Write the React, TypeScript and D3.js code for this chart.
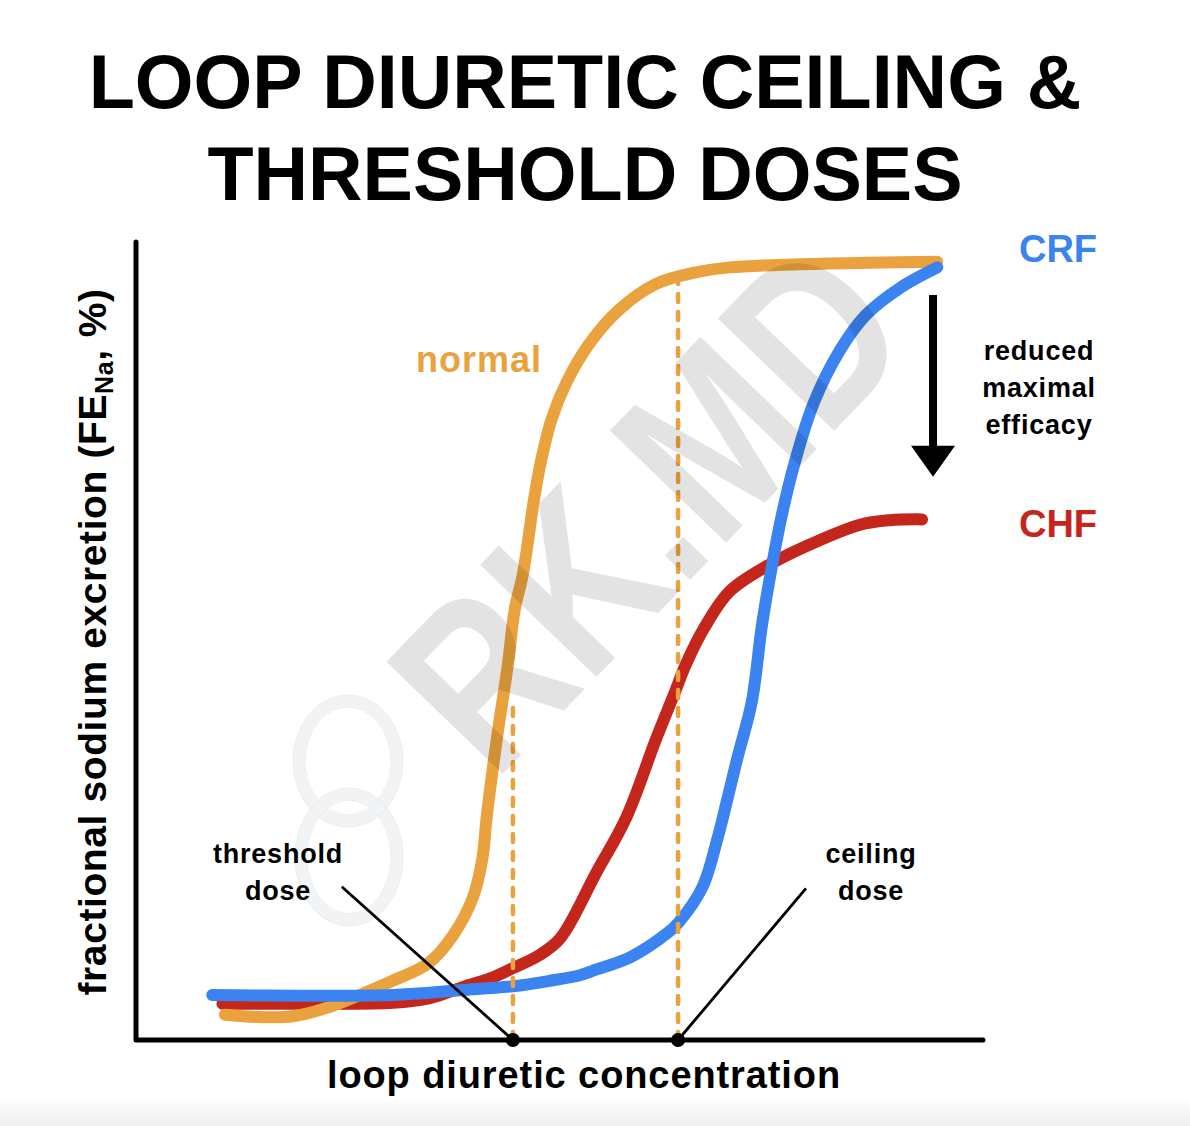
import React from 'react';
import * as d3 from 'd3';

const W = 1190;
const H = 1126;

// loop diuretic concentration (0-100, arbitrary) vs FE_Na (0-100, arbitrary)
const normalConc = [10.5, 14.6, 18.5, 22.6, 26.4, 30.3, 34.5, 37.4, 39.8, 40.9, 41.4, 42.6, 43.9, 44.7, 45.7, 47.0, 47.8, 49.1, 50.9, 53.5, 57.0, 61.4, 65.8, 70.1, 78.4, 86.7, 94.6];
const normalFe = [3.2, 2.9, 3.0, 4.1, 5.7, 7.5, 9.7, 13.2, 18.1, 23.0, 28.2, 38.1, 47.5, 54.4, 59.1, 68.5, 73.2, 78.7, 83.4, 88.1, 92.4, 95.7, 97.1, 97.8, 98.2, 98.4, 98.5];

const chfConc = [10.2, 19.4, 30.3, 34.7, 38.3, 41.8, 44.5, 47.7, 50.1, 54.3, 57.9, 61.4, 63.5, 64.9, 67.1, 70.1, 74.5, 78.9, 85.4, 89.0, 92.8];
const chfFe = [4.6, 4.6, 4.7, 5.3, 6.6, 7.8, 9.1, 10.8, 12.9, 21.1, 28.2, 38.1, 43.7, 47.5, 52.2, 56.8, 60.0, 62.4, 65.2, 65.8, 65.9];

const crfConc = [9.0, 19.4, 30.3, 38.3, 44.5, 48.9, 52.4, 54.3, 58.4, 62.7, 64.0, 66.9, 68.6, 69.3, 71.0, 72.7, 73.9, 75.0, 76.2, 77.8, 80.0, 83.1, 86.2, 90.2, 94.6];
const crfFe = [5.7, 5.6, 5.7, 6.3, 6.8, 7.5, 8.2, 8.9, 10.5, 13.5, 14.8, 19.4, 25.3, 28.2, 35.7, 42.8, 52.5, 59.5, 66.2, 73.2, 80.6, 87.3, 91.8, 95.2, 97.8];

// dose markers: concentration, top of dashed guide
const doseNames = ['threshold', 'ceiling'];
const doseConc = [44.5, 64.0];
const doseGuideTop = [42.2, 95.8];
// where the label leader lines start
const leaderConc = [24.3, 79.1];
const leaderFe = [19.4, 19.2];

// "reduced maximal efficacy" arrow
const arrowConc = 94.1;
const arrowFe = [94.3, 71.3];

const ORANGE = '#E9A23D';
const RED = '#C5261C';
const BLUE = '#3A83F1';
const FONT = '"Liberation Sans", Arial, Helvetica, sans-serif';

export default function App() {
  const margin = { left: 136, right: 207, top: 250, bottom: 86 };
  const x = d3.scaleLinear().domain([0, 100]).range([margin.left, W - margin.right]);
  const y = d3.scaleLinear().domain([0, 100]).range([H - margin.bottom, margin.top]);

  const line = d3
    .line<[number, number]>()
    .x(d => x(d[0]))
    .y(d => y(d[1]))
    .curve(d3.curveCatmullRom.alpha(0.5));

  const zip = (a: number[], b: number[]) => a.map((v, i) => [v, b[i]] as [number, number]);

  const series = [
    { name: 'CHF', color: RED, pts: zip(chfConc, chfFe) },
    { name: 'normal', color: ORANGE, pts: zip(normalConc, normalFe) },
    { name: 'CRF', color: BLUE, pts: zip(crfConc, crfFe) },
  ];

  const x0 = x(0);
  const y0 = y(0);
  const ax = x(arrowConc);
  const aTop = y(arrowFe[0]);
  const aTip = y(arrowFe[1]);

  const labelStyle = { fontFamily: FONT, fontWeight: 700 as const };

  return (
    <svg
      width={W}
      height={H}
      style={{ position: 'absolute', left: 0, top: 0, background: '#fff' }}
    >
      <defs>
        <linearGradient id="floor" x1="0" y1="0" x2="0" y2="1">
          <stop offset="0" stopColor="#ffffff" />
          <stop offset="1" stopColor="#efefef" />
        </linearGradient>
      </defs>
      <rect x={0} y={0} width={W} height={H} fill="#fff" />
      <rect x={0} y={1096} width={W} height={30} fill="url(#floor)" />

      {/* title */}
      <g style={labelStyle} fontSize={75.5} textAnchor="middle" fill="#000">
        <text x={585} y={108}>LOOP DIURETIC CEILING &amp;</text>
        <text x={585} y={200}>THRESHOLD DOSES</text>
      </g>

      {/* faint chain logo */}
      <g fill="none" stroke="#f1f3f5" strokeWidth={11}>
        <ellipse cx={348} cy={761} rx={49} ry={60} />
        <ellipse cx={349} cy={857} rx={48} ry={63} />
      </g>
      <g fill="none" stroke="#e9ecef" strokeWidth={1}>
        <ellipse cx={348} cy={761} rx={55} ry={66} />
        <ellipse cx={348} cy={761} rx={43} ry={54} />
        <ellipse cx={349} cy={857} rx={54} ry={69} />
        <ellipse cx={349} cy={857} rx={42} ry={57} />
      </g>

      {/* axes */}
      <path
        d={`M${x0},${y(100) - 8}V${y0}H${x(100)}`}
        fill="none"
        stroke="#000"
        strokeWidth={5}
        strokeLinecap="round"
        strokeLinejoin="round"
      />

      {/* curves */}
      {series.map(s => (
        <path
          key={s.name}
          d={line(s.pts) || ''}
          fill="none"
          stroke={s.color}
          strokeWidth={12}
          strokeLinecap="round"
          strokeLinejoin="round"
        />
      ))}

      {/* dashed guides */}
      {doseConc.map((c, i) => (
        <line
          key={doseNames[i]}
          x1={x(c)}
          x2={x(c)}
          y1={y0}
          y2={y(doseGuideTop[i])}
          stroke={ORANGE}
          strokeWidth={4.5}
          strokeDasharray="8 10"
          strokeLinecap="round"
        />
      ))}

      {/* leader lines + dots */}
      {doseConc.map((c, i) => (
        <g key={'lead' + i}>
          <line
            x1={x(leaderConc[i])}
            y1={y(leaderFe[i])}
            x2={x(c)}
            y2={y0}
            stroke="#000"
            strokeWidth={2.8}
          />
          <circle cx={x(c)} cy={y0} r={7} fill="#000" />
        </g>
      ))}

      {/* arrow */}
      <line x1={ax} x2={ax} y1={aTop} y2={aTip - 20} stroke="#000" strokeWidth={8} />
      <path d={`M${ax - 22},${aTip - 31}L${ax + 22},${aTip - 31}L${ax},${aTip}Z`} fill="#000" />

      {/* labels */}
      <g style={labelStyle}>
        <text x={479} y={372} fontSize={36} fill={ORANGE} textAnchor="middle" letterSpacing={1}>
          normal
        </text>
        <text x={1058} y={262} fontSize={38} fill={BLUE} textAnchor="middle">
          CRF
        </text>
        <text x={1058} y={537} fontSize={38} fill={RED} textAnchor="middle">
          CHF
        </text>
        <g fontSize={27} textAnchor="middle" fill="#000" letterSpacing={0.8}>
          <text x={1039} y={360}>reduced</text>
          <text x={1039} y={397}>maximal</text>
          <text x={1039} y={434}>efficacy</text>
          <text x={278} y={863}>threshold</text>
          <text x={278} y={900}>dose</text>
          <text x={871} y={863}>ceiling</text>
          <text x={871} y={900}>dose</text>
        </g>
        <text x={584} y={1088} fontSize={38} textAnchor="middle" fill="#000" letterSpacing={0.9}>
          loop diuretic concentration
        </text>
        <text
          transform="translate(106,642) rotate(-90)"
          fontSize={39}
          textAnchor="middle"
          fill="#000"
          letterSpacing={0.6}
        >
          fractional sodium excretion (FE
          <tspan fontSize={25} dy={7}>Na</tspan>
          <tspan dy={-7}>,</tspan>
          <tspan dx={12}>%)</tspan>
        </text>
      </g>

      {/* watermark */}
      <text
        transform="translate(494,783) rotate(-46)"
        style={labelStyle}
        fontSize={235}
        textLength={612}
        lengthAdjust="spacingAndGlyphs"
        fill="#000"
        fillOpacity={0.11}
      >
        RK.MD
      </text>
    </svg>
  );
}
